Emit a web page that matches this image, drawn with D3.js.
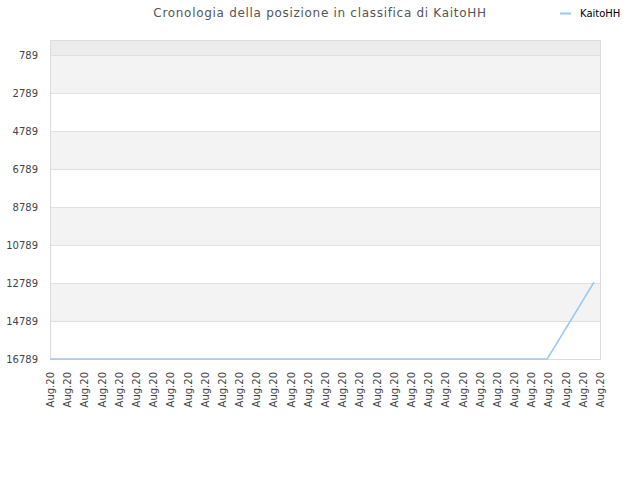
<!DOCTYPE html>
<html lang="it">
<head>
  <meta charset="utf-8">
  <title>Cronologia della posizione in classifica di KaitoHH</title>
  <script src="https://cdn.jsdelivr.net/npm/d3@7"></script>
  <style>
    body { margin: 0; background: #fff; }
    svg text { font-family: "DejaVu Sans", sans-serif; }
  </style>
</head>
<body>
<div id="chart"></div>
<script>
// tick labels along the x axis (33 of them, all the same day)
var xLabels = d3.range(33).map(function () { return "Aug.20"; });
var yTicks = [789, 2789, 4789, 6789, 8789, 10789, 12789, 14789, 16789];

// series: position over time (time in label steps)
var times = [0, 1, 2, 3, 4, 5, 6, 7, 8, 9, 10, 11, 12, 13, 14, 15, 16, 17, 18, 19,
             20, 21, 22, 23, 24, 25, 26, 27, 28, 28.93, 31.65];
var ranks = [16789, 16789, 16789, 16789, 16789, 16789, 16789, 16789, 16789, 16789,
             16789, 16789, 16789, 16789, 16789, 16789, 16789, 16789, 16789, 16789,
             16789, 16789, 16789, 16789, 16789, 16789, 16789, 16789, 16789, 16789, 12750];
var seriesName = "KaitoHH";

var width = 640, height = 480;
var margin = {top: 40, right: 40, bottom: 121, left: 50};
var iw = width - margin.left - margin.right;
var ih = height - margin.top - margin.bottom;

var svg = d3.select("#chart").append("svg")
    .attr("width", width)
    .attr("height", height);

var x = d3.scaleLinear().domain([0, xLabels.length - 1]).range([0, iw]);
var y = d3.scaleLinear().domain([0, 16789]).range([0, ih]);

var g = svg.append("g").attr("transform", "translate(" + margin.left + "," + margin.top + ")");

// alternating bands between tick values
var bands = [[0, yTicks[0]]];
for (var i = 0; i < yTicks.length - 1; i++) bands.push([yTicks[i], yTicks[i + 1]]);
g.selectAll("rect.band").data(bands).enter().append("rect")
    .attr("class", "band")
    .attr("x", 0)
    .attr("width", iw)
    .attr("y", function (d) { return y(d[0]); })
    .attr("height", function (d) { return y(d[1]) - y(d[0]); })
    .attr("fill", function (d, i) { return i == 0 ? "#ececec" : (i % 2 == 1 ? "#f3f3f3" : "#ffffff"); });

// grid lines
g.selectAll("line.grid").data(yTicks).enter().append("line")
    .attr("class", "grid")
    .attr("x1", 0).attr("x2", iw)
    .attr("y1", function (d) { return Math.round(y(d)) + 0.5; })
    .attr("y2", function (d) { return Math.round(y(d)) + 0.5; })
    .attr("stroke", "#e0e0e0");

// frame
g.append("rect")
    .attr("x", 0.5).attr("y", 0.5)
    .attr("width", iw).attr("height", ih)
    .attr("fill", "none")
    .attr("stroke", "#dcdcdc");

// y axis labels
var yAxis = g.append("g").call(d3.axisLeft(y).tickValues(yTicks)
    .tickFormat(d3.format("d")).tickSize(0).tickPadding(12));
yAxis.select(".domain").remove();
yAxis.selectAll("text")
    .attr("fill", "#444")
    .style("font-size", "10px")
    .style("font-family", "DejaVu Sans, sans-serif");

// x axis labels
var xAxis = g.append("g")
    .attr("transform", "translate(0," + ih + ")")
    .call(d3.axisBottom(x).tickValues(d3.range(xLabels.length))
      .tickFormat(function (d) { return xLabels[d]; }).tickSize(0));
xAxis.select(".domain").remove();
xAxis.selectAll("text")
    .attr("fill", "#444")
    .style("font-size", "10px")
    .style("font-family", "DejaVu Sans, sans-serif")
    .attr("text-anchor", "end")
    .attr("transform", "rotate(-90)")
    .attr("x", -13)
    .attr("y", 0)
    .attr("dy", "0.35em");

// line
var pts = times.map(function (t, i) { return [t, ranks[i]]; });
g.append("path")
    .datum(pts)
    .attr("fill", "none")
    .attr("stroke", "#99c8f5")
    .attr("stroke-width", 1.5)
    .attr("d", d3.line()
      .x(function (d) { return x(d[0]); })
      .y(function (d) { return y(d[1]); }));

// title
svg.append("text")
    .attr("x", 320).attr("y", 17)
    .attr("text-anchor", "middle")
    .attr("fill", "#555")
    .style("font-size", "12px")
    .style("letter-spacing", "0.7px")
    .text("Cronologia della posizione in classifica di " + seriesName);

// legend
svg.append("line")
    .attr("x1", 560).attr("x2", 571)
    .attr("y1", 13.5).attr("y2", 13.5)
    .attr("stroke", "#99c8f5")
    .attr("stroke-width", 2);
svg.append("text")
    .attr("x", 580).attr("y", 17)
    .attr("fill", "#000")
    .style("font-size", "10px")
    .text(seriesName);
</script>
</body>
</html>
